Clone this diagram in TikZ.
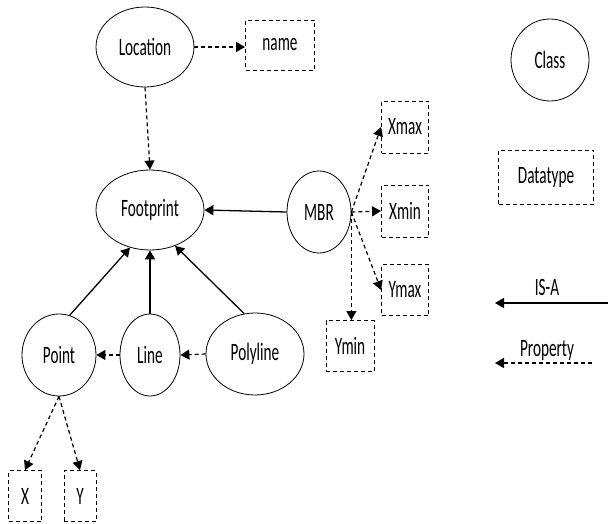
\documentclass[tikz,border=0pt]{standalone}
\usepackage{fontspec}
\usepackage{graphicx}
\setmainfont{Carlito}
\newcommand\sqz[1]{\scalebox{0.61}[1]{#1}}
\usetikzlibrary{arrows.meta,shapes.geometric}
\begin{document}
\begin{tikzpicture}[x=1pt,y=-1pt,
  every node/.style={font=\fontsize{25}{30}\selectfont, inner sep=0pt},
  cls/.style={draw, ellipse, line width=0.8pt},
  dtype/.style={draw, rectangle, line width=0.9pt, dash pattern=on 4pt off 3pt},
  isa/.style={line width=1.3pt, -{Triangle[length=9pt,width=10pt]}},
  prop/.style={line width=1.2pt, dash pattern=on 4pt off 3pt, -{Triangle[length=9pt,width=10pt]}}]
\useasboundingbox[fill=white] (0,0) rectangle (608,524);
% classes
\node[cls, minimum width=98pt, minimum height=80pt] (loc) at (145,47) {\sqz{Location}};
\node[cls, minimum width=108pt, minimum height=80pt] (fp) at (150,210) {\sqz{Footprint}};
\node[cls, minimum width=64pt, minimum height=82pt] (mbr) at (319,212) {\sqz{MBR}};
\node[cls, minimum width=74pt, minimum height=82pt] (pt) at (59,355) {\sqz{Point}};
\node[cls, minimum width=60pt, minimum height=82pt] (ln) at (150,355) {\sqz{Line}};
\node[cls, minimum width=98pt, minimum height=82pt] (pl) at (255,354) {\sqz{Polyline}};
% datatypes
\node[dtype, minimum width=69pt, minimum height=50pt] (name) at (280,45) {\sqz{name}};
\node[dtype, minimum width=47pt, minimum height=52pt] (xmax) at (405,127) {\sqz{Xmax}};
\node[dtype, minimum width=47pt, minimum height=52pt] (xmin) at (405,211) {\sqz{Xmin}};
\node[dtype, minimum width=47pt, minimum height=51pt] (ymax) at (405,290) {\sqz{Ymax}};
\node[dtype, minimum width=48pt, minimum height=51pt] (ymin) at (350,346) {\sqz{Ymin}};
\node[dtype, minimum width=33pt, minimum height=51pt] (x) at (25,496) {\sqz{X}};
\node[dtype, minimum width=32pt, minimum height=51pt] (y) at (80,496) {\sqz{Y}};
% connectors
\draw[prop] (loc.east) -- (name.west |- loc.east);
\draw[prop] (loc.south) -- (fp.north);
\draw[isa] (mbr.west) -- (fp.east);
\draw[prop] (mbr.east) -- (xmax.west);
\draw[prop] (mbr.east) -- (xmin.west);
\draw[prop] (mbr.east) -- (ymax.west);
\draw[prop] (mbr.east) -- (ymin.north -| mbr.east);
\draw[isa] (pt.75) -- (fp.242);
\draw[isa] (ln.north) -- (fp.south);
\draw[isa] (pl.105) -- (fp.305);
\draw[prop] (ln.west) -- (pt.east);
\draw[prop] (pl.west) -- (ln.east);
\draw[prop] (pt.south) -- (x.north);
\draw[prop] (pt.south) -- (y.north);
% legend
\node[cls, minimum width=78pt, minimum height=82pt] (lcls) at (550,60) {\sqz{Class}};
\node[dtype, minimum width=95pt, minimum height=54pt] (ldt) at (546,177) {\sqz{Datatype}};
\node (lisa) at (547,287) {\sqz{IS-A}};
\coordinate (isaS) at (608,303);
\coordinate (isaE) at (495,303);
\draw[isa] (isaS) -- (isaE);
\node (lprop) at (547,350) {\sqz{Property}};
\coordinate (propS) at (592,363);
\coordinate (propE) at (495,363);
\draw[prop] (propS) -- (propE);
\end{tikzpicture}
\end{document}
